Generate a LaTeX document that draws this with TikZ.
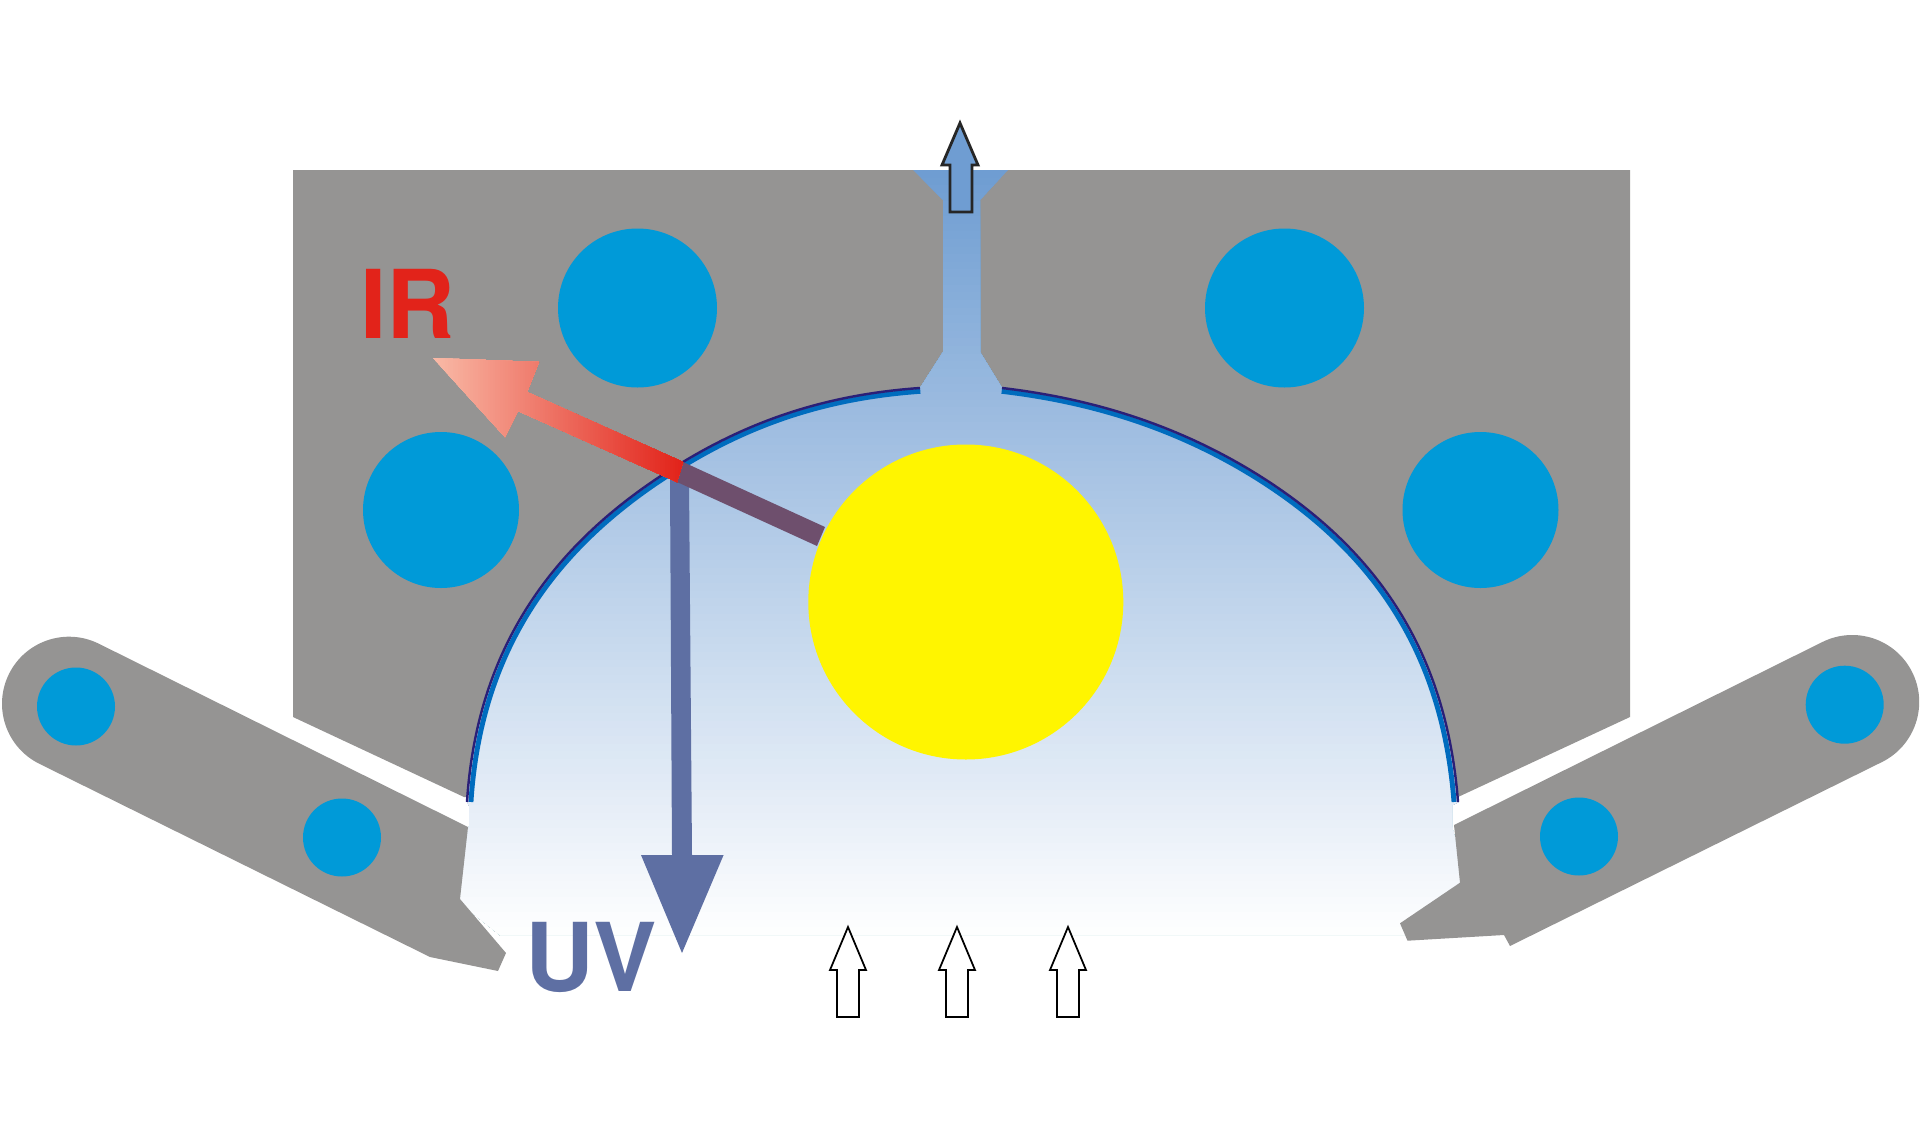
\documentclass[tikz,border=0pt]{standalone}
\usepackage{fontspec}
\setsansfont{TeX Gyre Heros}
\definecolor{housing}{HTML}{959493}
\definecolor{coolant}{HTML}{009AD8}
\definecolor{lamp}{HTML}{FFF500}
\definecolor{glowtop}{HTML}{6F9DD2}
\definecolor{mirrornavy}{HTML}{2A1F78}
\definecolor{mirrorblue}{HTML}{006CBE}
\definecolor{uvblue}{HTML}{5E6FA3}
\definecolor{irred}{HTML}{E2231A}
\definecolor{irpale}{HTML}{F9BBA8}
\definecolor{mixpurple}{HTML}{6E4F6D}
\tikzset{
  body/.style = {fill=housing},
  hole/.style = {fill=coolant},
  airflow/.style = {draw=black, fill=white, line width=0.5pt, line join=miter},
  label/.style = {font=\sffamily\bfseries\fontsize{27}{27}\selectfont, inner sep=0pt}
}
\def\mirrorleft{.. controls (477,645) and (555,539) .. (683,462) .. controls (759,416) and (835,394) .. (920,388)}
\def\mirrorright{.. controls (1096,399) and (1183,427) .. (1263,478) .. controls (1385,556) and (1447,660) .. (1458,802)}
\begin{document}
\begin{tikzpicture}[x=0.01cm,y=-0.01cm]
  \useasboundingbox (0,0) rectangle (1920,1136);
  \fill[body] (293,170) -- (1630,170) -- (1630,717) -- (1458,797) -- (464,797) -- (293,717) -- cycle;
  \begin{scope}
    \clip (913,170) -- (1008,170) -- (980,200) -- (980,352) -- (1002,388) \mirrorright
      -- (1452,805) -- (1452,826) -- (1465,883) -- (1410,935) -- (500,935) -- (455,899) -- (469,826) -- (469,805)
      -- (467,802) \mirrorleft -- (943,352) -- (943,200) -- cycle;
    \foreach \i in {0,...,100}
      \fill[white!\i!glowtop] (440,{170+7.65*\i}) rectangle (1480,940);
  \end{scope}
  \begin{scope}[shift={(961,800)},scale=.992,shift={(-961,-800)}]
    \draw[mirrorblue, line width=1.4pt] (467,802) \mirrorleft;
    \draw[mirrorblue, line width=1.4pt] (1002,388) \mirrorright;
  \end{scope}
  \draw[mirrornavy, line width=.7pt] (467,802) \mirrorleft;
  \draw[mirrornavy, line width=.7pt] (1002,388) \mirrorright;
  \fill[body] (98.8,643.7) arc[start angle=-63.6, end angle=-243.6, radius=67] -- (430,957) -- (498,971) -- (506,953) -- (460,899) -- (468,827) -- cycle;
  \fill[body] (1822,642.2) arc[start angle=-116.8, end angle=63.2, radius=67] -- (1510,946) -- (1504,935) -- (1407.5,940.7) -- (1400,923.3) -- (1460,882.7) -- (1454,825) -- cycle;
  \foreach \x/\y/\r in {637.5/308/79.5, 441/510/78, 1284.5/308/79.5, 1480.5/510/78, 76/706.5/39, 342/837.5/39, 1844.7/704.7/39, 1579/836.5/39}
    \fill[hole] (\x,\y) circle (\r);
  \fill[uvblue] (670,480) -- (689,480) -- (692,855) -- (723.6,855) -- (682,953) -- (641,855) -- (672,855) -- cycle;
  \fill[mixpurple] (683,462) -- (825,527) -- (817,546) -- (677,482) -- cycle;
  \begin{scope}
    \clip (433,358) -- (539,362) -- (527,392) -- (683,462) -- (677,482) -- (518,411) -- (505,437) -- cycle;
    \foreach \i in {0,...,100}
      \fill[irred!\i!irpale] ({430+2.5*\i},350) rectangle (690,490);
  \end{scope}
  \fill[lamp] (965.8,602) circle (157.5);
  \draw[draw=black!85, fill=glowtop, line width=.8pt] (960,123) -- (978,165) -- (972,165) -- (972,212) -- (950,212) -- (950,165) -- (942,165) -- cycle;
  \foreach \x in {848,957,1068}
    \draw[airflow] (\x,927) -- ++(18,43) -- ++(-7,0) -- ++(0,47) -- ++(-22,0) -- ++(0,-47) -- ++(-7,0) -- cycle;
  \node[label, text=irred] (ir) at (408,304) {IR};
  \node[label, text=uvblue] (uv) at (591,957) {UV};
\end{tikzpicture}
\end{document}
